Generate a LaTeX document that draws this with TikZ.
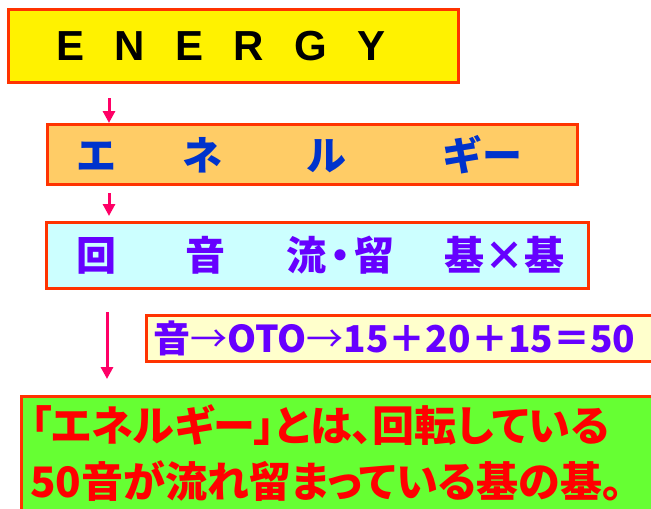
\documentclass[tikz,border=0pt]{standalone}
\usepackage{fontspec}
\setmainfont{Liberation Sans}
\newfontfamily\jpfont{Noto Sans CJK JP}
\newfontfamily\jppfont{Noto Sans CJK JP}[RawFeature=+palt]
\usetikzlibrary{arrows.meta}
\definecolor{framered}{HTML}{FF3300}
\definecolor{flowpink}{HTML}{FF0066}
\definecolor{kanaorange}{HTML}{FFCC66}
\definecolor{kanjicyan}{HTML}{CCFFFF}
\definecolor{otocream}{HTML}{FFFFCC}
\definecolor{sumgreen}{HTML}{66FF33}
\definecolor{kanablue}{HTML}{0033CC}
\definecolor{kanjiviolet}{HTML}{6600FF}
\newcommand{\lgap}{\kern.72em}
\newcommand{\thinarrow}{{\mdseries →}}

\begin{document}
\begin{tikzpicture}[x=0.5pt, y=-0.5pt,
  frame/.style={draw=framered, line width=1.5pt, anchor=north west, align=left, inner ysep=0pt},
  flow/.style={draw=flowpink, line width=1.5pt, -{Triangle[width=6pt,length=6pt]}}]
   \useasboundingbox (0,0) rectangle (651,508);
   \clip (0,0) rectangle (651,508);
   \node[frame, fill=yellow, minimum height=36.5pt, inner xsep=24pt, text width=177pt,
     font=\fontsize{21}{21}\selectfont\bfseries] (energy) at (7,8) {E\lgap N\lgap E\lgap R\lgap G\lgap Y};
   \node[frame, fill=kanaorange, minimum height=30pt, inner xsep=14.5pt, text width=236pt,
     text=kanablue, font=\jpfont\bfseries\fontsize{20}{20}\selectfont] (kana) at (46,123)
     {エ\kern33ptネ\kern42ptル\kern48ptギー};
   \node[frame, fill=kanjicyan, minimum height=33pt, inner xsep=15pt, text width=241pt,
     text=kanjiviolet, font=\jpfont\bfseries\fontsize{20}{20}\selectfont] (kanji) at (45,221)
     {回\kern34.5pt音\kern30.5pt流\kern-3pt・\kern-3pt留\kern25pt基×基};
   \node[frame, fill=otocream, minimum height=23pt, inner xsep=3.5pt, text width=252pt,
     text=kanjiviolet, font=\jpfont\bfseries\fontsize{18.5}{18.5}\selectfont] (oto) at (145,314)
     {音\thinarrow OTO\thinarrow 15＋20＋15＝50};
   \node[frame, fill=sumgreen, minimum width=330pt, minimum height=62pt] (summary) at (20,395) {};
   \node[anchor=north west, inner sep=0pt, align=left, text=red,
     font=\jppfont\bfseries\fontsize{21}{28}\selectfont] (sumtext)
     at ([xshift=5pt,yshift=-4.5pt]summary.north west)
     {「エネルギー」とは、回転している\\50音が流れ留まっている基の基。};
   \coordinate (a1) at (109,98);
   \coordinate (a2) at (109,193);
   \coordinate (a3) at (107,312);
   \draw[flow] (a1) -- (a1 |- kana.north);
   \draw[flow, shorten >=2.5pt] (a2) -- (a2 |- kanji.north);
   \draw[flow, shorten >=8pt] (a3) -- (a3 |- summary.north);
\end{tikzpicture}
\end{document}
